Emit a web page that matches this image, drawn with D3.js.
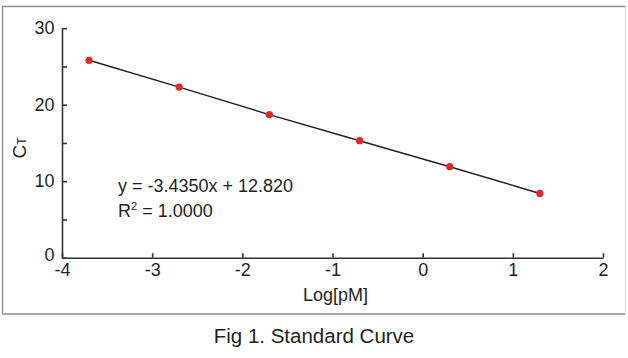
<!DOCTYPE html>
<html>
<head>
<meta charset="utf-8">
<script src="https://cdn.jsdelivr.net/npm/d3@7"></script>
<style>
  body { margin: 0; background: #fff; }
  text { font-family: "Liberation Sans", Arial, sans-serif; fill: #231f20; }
</style>
</head>
<body>
<div id="chart"></div>
<script>
// standard curve points
const logConc = [-3.7, -2.7, -1.7, -0.7, 0.3, 1.3];
const ctValues = [25.8, 22.3, 18.7, 15.3, 11.9, 8.4];
const xTicks = [-4, -3, -2, -1, 0, 1, 2];
const yTicks = [0, 5, 10, 15, 20, 25, 30];
const yLabelled = [0, 10, 20, 30];
const fitLines = ["y = -3.4350x + 12.820", "R|2| = 1.0000"];

const W = 628, H = 358;
const svg = d3.select("#chart").append("svg")
  .attr("width", W).attr("height", H);

// frame around the plot
const fr = {x0: 2.5, y0: 6.5, x1: 625.5, y1: 314};
svg.append("path").attr("d", `M${fr.x0},${fr.y1}V${fr.y0}H${fr.x1}`)
  .attr("fill", "none").attr("stroke", "#8c8c8c").attr("stroke-width", 1.3);
svg.append("path").attr("d", `M${fr.x0},${fr.y1}H${fr.x1}`)
  .attr("fill", "none").attr("stroke", "#8c8c8c").attr("stroke-width", 1.3);
svg.append("path").attr("d", `M${fr.x1},${fr.y0}V${fr.y1}`)
  .attr("fill", "none").attr("stroke", "#dedede").attr("stroke-width", 1);

const x = d3.scaleLinear().domain([-4, 2]).range([62, 603]);
const y = d3.scaleLinear().domain([0, 30]).range([257.7, 28.2]);

const xAxis = svg.append("g")
  .attr("transform", `translate(0,${y(0)})`)
  .call(d3.axisBottom(x).tickValues(xTicks).tickSizeInner(-4.5).tickSizeOuter(0).tickPadding(5.6)
    .tickFormat(d => d < 0 ? "-" + Math.abs(d) : d));

const yAxis = svg.append("g")
  .attr("transform", `translate(${x(-4)},0)`)
  .call(d3.axisLeft(y).tickValues(yTicks).tickSizeInner(-5).tickSizeOuter(0).tickPadding(7.5)
    .tickFormat(d => yLabelled.includes(d) ? d : ""));

[xAxis, yAxis].forEach(g => {
  g.selectAll("path, line").attr("stroke", "#333").attr("stroke-width", 1.6);
  g.selectAll("text").attr("font-size", 18).attr("fill", "#231f20")
    .style("font-family", "'Liberation Sans', Arial, sans-serif");
});
// the "0" on the y axis sits a bit above the axis line
yAxis.selectAll(".tick text").filter(d => d === 0).attr("dy", "0.15em");

// fitted line through the points
const pts = logConc.map((v, i) => [v, ctValues[i]]);
svg.append("path").datum(pts)
  .attr("fill", "none").attr("stroke", "#222").attr("stroke-width", 1.5)
  .attr("d", d3.line().x(d => x(d[0])).y(d => y(d[1])));

svg.selectAll(".dot").data(pts).enter().append("circle")
  .attr("class", "dot")
  .attr("cx", d => x(d[0])).attr("cy", d => y(d[1]))
  .attr("r", 3.6).attr("fill", "#ec2227");

// equation block
const eq = svg.append("g");
eq.append("text").attr("x", 118).attr("y", 192).attr("font-size", 18).text(fitLines[0]);
const r2 = eq.append("text").attr("x", 118).attr("y", 216.5).attr("font-size", 18);
fitLines[1].split("|").forEach((part, i) => {
  const t = r2.append("tspan").text(part);
  if (i === 1) t.attr("font-size", 11).attr("dy", -7);
  if (i === 2) t.attr("dy", 7);
});

// axis titles
svg.append("text").attr("x", 335.5).attr("y", 301).attr("text-anchor", "middle")
  .attr("font-size", 18).text("Log[pM]");

const ct = svg.append("text").attr("transform", "translate(26,148) rotate(-90)")
  .attr("text-anchor", "middle").attr("font-size", 19);
ct.append("tspan").text("C");
ct.append("tspan").attr("font-size", 12).text("T");

// caption
svg.append("text").attr("x", 314).attr("y", 343).attr("text-anchor", "middle")
  .attr("font-size", 20.5).text("Fig 1. Standard Curve");
</script>
</body>
</html>
